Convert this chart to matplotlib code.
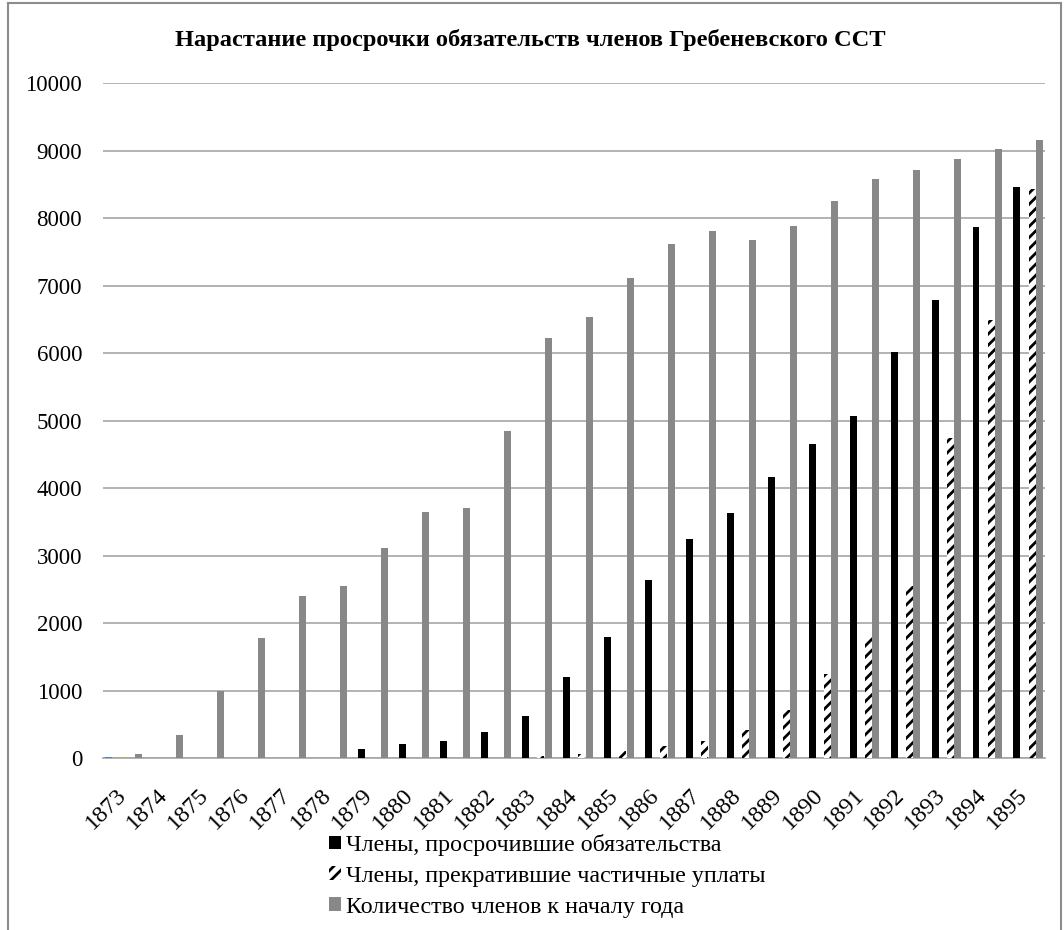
import numpy as np
import matplotlib.pyplot as plt
from matplotlib.lines import Line2D

plt.rcParams['font.family'] = ['Liberation Serif', 'DejaVu Serif']
plt.rcParams['hatch.linewidth'] = 2.0

years = [str(y) for y in range(1873, 1896)]

# два служебных ряда (видны только в 1873 г.)
row1 = [25] + [0] * 22
row2 = [25] + [0] * 22
overdue = [0, 0, 0, 0, 0, 0, 136, 214, 258, 390, 629, 1204, 1801, 2641,
           3244, 3630, 4172, 4661, 5067, 6015, 6790, 7876, 8459]
stopped = [0, 0, 0, 0, 0, 0, 0, 0, 0, 0, 35, 70, 113, 182,
           261, 419, 716, 1244, 1801, 2553, 4750, 6493, 8434]
members = [60, 340, 990, 1787, 2410, 2549, 3116, 3649, 3708, 4849, 6227, 6538, 7111, 7619,
           7807, 7679, 7891, 8261, 8582, 8711, 8874, 9022, 9160]

fig = plt.figure(figsize=(10.64, 9.30), dpi=100)
ax = fig.add_axes([103/1064, 1 - 758.3/930, (1045-103)/1064, (758.3-83.3)/930])

x = np.arange(len(years))
slot = 0.185
width = 0.17
ax.bar(x - 2*slot, row1, width, color='#4F81BD', zorder=3)
b1 = ax.bar(x - slot, overdue, width, color='black', zorder=3,
            label='Члены, просрочившие обязательства')
ax.bar(x, row2, width, color='#9BBB59', zorder=3)
b2 = ax.bar(x + slot, stopped, width, facecolor='white', edgecolor='black',
            hatch='///', linewidth=0, zorder=3,
            label='Члены, прекратившие частичные уплаты')
b3 = ax.bar(x + 2*slot, members, width, color='#888888', zorder=3,
            label='Количество членов к началу года')

ax.set_xlim(-0.5, len(years) - 0.5)
ax.set_ylim(0, 10000)
ax.set_yticks(np.arange(0, 10001, 1000))
ax.yaxis.grid(True, color='#A6A6A6', linewidth=1.2, zorder=0)
ax.set_axisbelow(True)
for s in ['left', 'right', 'top']:
    ax.spines[s].set_visible(False)
ax.spines['bottom'].set_color('#A6A6A6')
ax.spines['bottom'].set_linewidth(1.2)
ax.tick_params(axis='y', length=0, pad=15, labelsize=16.5)
ax.tick_params(axis='x', length=0, pad=24, labelsize=17.5)
ax.set_xticks(x)
ax.set_xticklabels(years, rotation=45, ha='right', va='center', rotation_mode='anchor')

fig.text(0.498, 1 - 40/930, 'Нарастание просрочки обязательств членов Гребеневского ССТ',
         ha='center', va='center', fontsize=17.6, fontweight='bold')

fig.legend(handles=[b1, b2, b3], loc='upper left', bbox_to_anchor=(0.309, 1 - 834/930),
           frameon=False, fontsize=17.3, handlelength=0.5, handleheight=0.5,
           handletextpad=0.2, labelspacing=0.41, borderpad=0, borderaxespad=0)

# рамка области диаграммы
fig.add_artist(Line2D([8/1064, 8/1064], [0, 1 - 3/930], color='#8C8C8C', lw=1.5))
fig.add_artist(Line2D([8/1064, 1061/1064], [1 - 3/930, 1 - 3/930], color='#8C8C8C', lw=1.5))
fig.add_artist(Line2D([1061/1064, 1061/1064], [0, 1 - 3/930], color='#8C8C8C', lw=1.5))

plt.savefig('out.png', dpi=100)
